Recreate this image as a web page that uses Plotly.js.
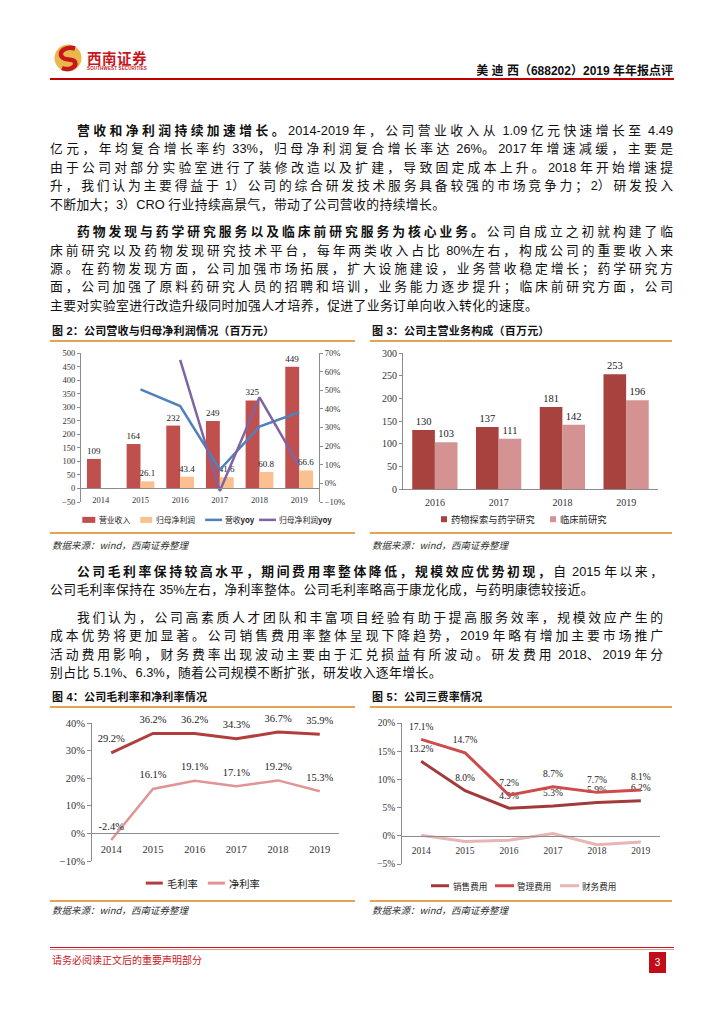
<!DOCTYPE html>
<html><head><meta charset="utf-8">
<script src="https://cdn.plot.ly/plotly-3.0.1.min.js"></script>
<style>
body{margin:0;background:#fff;}
#page{position:relative;width:724px;height:1024px;overflow:hidden;background:#fff;font-family:"Liberation Sans","Noto Sans CJK SC",sans-serif;color:#111;}
.ln{position:absolute;left:50px;width:623px;height:18px;line-height:18px;font-size:12.8px;white-space:nowrap;text-align:left;}
.ln.w2{width:613px;}
.ind{padding-left:27px;box-sizing:border-box;}
.ln b{font-weight:bold;}
.ln .a{letter-spacing:0px;}
.ft{position:absolute;height:14px;line-height:14px;font-size:11px;font-weight:bold;white-space:nowrap;letter-spacing:0.2px;}
.ol{position:absolute;height:2px;background:#E2A453;}
.src{position:absolute;height:12px;line-height:12px;font-size:9.5px;font-style:italic;color:#333;white-space:nowrap;font-family:"Noto Sans CJK SC",sans-serif;}
.chart{position:absolute;}
</style></head>
<body><div id="page">
<svg style="position:absolute;left:53px;top:43px" width="30" height="30" viewBox="0 0 30 30">
<circle cx="15" cy="15" r="13.5" fill="#E8B84B"/>
<path d="M22,5.5 C12,3 5,9 9,14 C12,18 20,15 22,19 C24,24 16,28 9,25" fill="none" stroke="#C8161D" stroke-width="4.5"/>
</svg>
<div style="position:absolute;left:87px;top:50px;font-size:14.5px;font-weight:bold;color:#C8161D;letter-spacing:0.5px;font-family:'Noto Sans CJK SC';line-height:16px;">西南证券</div>
<div style="position:absolute;left:87px;top:66px;font-size:9px;color:#C8161D;font-weight:bold;transform:scale(0.5);transform-origin:0 0;white-space:nowrap;letter-spacing:0.3px;">SOUTHWEST SECURITIES</div>
<div style="position:absolute;right:51px;top:63px;font-size:12px;font-weight:bold;line-height:16px;white-space:nowrap;">美 迪 西（688202）2019 年年报点评</div>
<div style="position:absolute;left:50px;top:78px;width:624px;height:1.5px;background:#C00000;"></div>

<div class="ln ind" data-p="1" style="top:122px"><b>营收和净利润持续加速增长。</b>2014-2019 年，公司营业收入从 1.09 亿元快速增长至 4.49</div>
<div class="ln" data-p="1" style="top:140.4px">亿元，年均复合增长率约 33%，归母净利润复合增长率达 26%。2017 年增速减缓，主要是</div>
<div class="ln" data-p="1" style="top:158.8px">由于公司对部分实验室进行了装修改造以及扩建，导致固定成本上升。2018 年开始增速提</div>
<div class="ln" data-p="1" style="top:177.2px">升，我们认为主要得益于 1）公司的综合研发技术服务具备较强的市场竞争力；2）研发投入</div>
<div class="ln last" data-p="1" style="top:195.6px">不断加大；3）CRO 行业持续高景气，带动了公司营收的持续增长。</div>

<div class="ln ind" data-p="2" style="top:223.2px"><b>药物发现与药学研究服务以及临床前研究服务为核心业务。</b>公司自成立之初就构建了临</div>
<div class="ln" data-p="2" style="top:241.6px">床前研究以及药物发现研究技术平台，每年两类收入占比 80%左右，构成公司的重要收入来</div>
<div class="ln" data-p="2" style="top:260px">源。在药物发现方面，公司加强市场拓展，扩大设施建设，业务营收稳定增长；药学研究方</div>
<div class="ln" data-p="2" style="top:278.4px">面，公司加强了原料药研究人员的招聘和培训，业务能力逐步提升；临床前研究方面，公司</div>
<div class="ln last" data-p="2" style="top:296.8px">主要对实验室进行改造升级同时加强人才培养，促进了业务订单向收入转化的速度。</div>

<div class="ft" style="left:52px;top:324px">图 2：公司营收与归母净利润情况（百万元）</div>
<div class="ol" style="left:50px;top:340px;width:305px"></div>
<div class="ft" style="left:372px;top:324px">图 3：公司主营业务构成（百万元）</div>
<div class="ol" style="left:370px;top:340px;width:302px"></div>
<div id="c2" class="chart"></div>
<div id="c3" class="chart"></div>
<div class="ol" style="left:50px;top:532px;width:305px"></div>
<div class="ol" style="left:370px;top:532px;width:302px"></div>
<div class="src" style="left:52px;top:539px">数据来源：wind，西南证券整理</div>
<div class="src" style="left:372px;top:539px">数据来源：wind，西南证券整理</div>

<div class="ln ind w2" data-p="3" style="top:563px"><b>公司毛利率保持较高水平，期间费用率整体降低，规模效应优势初现，</b>自 2015 年以来，</div>
<div class="ln last" data-p="3" style="top:581.4px">公司毛利率保持在 35%左右，净利率整体。公司毛利率略高于康龙化成，与药明康德较接近。</div>
<div class="ln ind w2" data-p="4" style="top:609px">我们认为，公司高素质人才团队和丰富项目经验有助于提高服务效率，规模效应产生的</div>
<div class="ln w2" data-p="4" style="top:627.4px">成本优势将更加显著。公司销售费用率整体呈现下降趋势，2019 年略有增加主要市场推广</div>
<div class="ln w2" data-p="4" style="top:645.8px">活动费用影响，财务费率出现波动主要由于汇兑损益有所波动。研发费用 2018、2019 年分</div>
<div class="ln last" data-p="4" style="top:664.2px">别占比 5.1%、6.3%，随着公司规模不断扩张，研发收入逐年增长。</div>

<div class="ft" style="left:52px;top:690px">图 4：公司毛利率和净利率情况</div>
<div class="ol" style="left:50px;top:706px;width:305px"></div>
<div class="ft" style="left:372px;top:690px">图 5：公司三费率情况</div>
<div class="ol" style="left:370px;top:706px;width:302px"></div>
<div id="c4" class="chart"></div>
<div id="c5" class="chart"></div>
<div class="ol" style="left:50px;top:900px;width:305px"></div>
<div class="ol" style="left:370px;top:900px;width:302px"></div>
<div class="src" style="left:52px;top:904px">数据来源：wind，西南证券整理</div>
<div class="src" style="left:372px;top:904px">数据来源：wind，西南证券整理</div>

<div style="position:absolute;left:50px;top:946.5px;width:624px;height:1.5px;background:#C8161D;"></div>
<div style="position:absolute;left:50px;top:948.5px;width:624px;height:1px;background:#E99;"></div>
<div style="position:absolute;left:52px;top:953px;font-size:10px;color:#C8161D;line-height:14px;font-family:'Noto Sans CJK SC';white-space:nowrap;">请务必阅读正文后的重要声明部分</div>
<div style="position:absolute;left:649px;top:952px;width:17px;height:21px;background:#C00D17;color:#fff;font-size:10px;line-height:21px;text-align:center;">3</div>
</div>
<script>
// ---- data ----
const years6 = ['2014','2015','2016','2017','2018','2019'];
const revenue = [109,164,232,249,325,449];
const netProfit = [-2.6,26.1,43.4,41.6,60.8,66.6];
const revenueYoy = [null,50.5,41.5,7.3,30.5,38.2];
const netProfitYoy = [null,null,66.3,-4.1,46.2,9.5];

const years4 = ['2016','2017','2018','2019'];
const drugDiscovery = [130,137,181,253];
const preclinical = [103,111,142,196];

const grossMargin = [29.2,36.2,36.2,34.3,36.7,35.9];
const netMargin = [-2.4,16.1,19.1,17.1,19.2,15.3];

const sellingExp = [13.2,8.0,4.9,5.3,5.9,6.2];
const adminExp = [17.1,14.7,7.2,8.7,7.7,8.1];
const financeExp = [0.1,-1.0,-0.8,0.4,-1.6,-1.1];

// ---- body text: inter-character justification on CJK only ----
(function(){
  const ASC = /^[\x20-\x7E]$/;
  function wrapAscii(el){
    const walker = document.createTreeWalker(el, NodeFilter.SHOW_TEXT);
    const nodes=[]; while(walker.nextNode()) nodes.push(walker.currentNode);
    nodes.forEach(t=>{
      const parts = t.nodeValue.split(/([\x20-\x7E]+)/);
      if(parts.length<2) return;
      const frag = document.createDocumentFragment();
      parts.forEach((p,i)=>{
        if(!p) return;
        if(i%2===1){const s=document.createElement('span'); s.className='a'; s.textContent=p; frag.appendChild(s);}
        else frag.appendChild(document.createTextNode(p));
      });
      t.parentNode.replaceChild(frag,t);
    });
  }
  document.querySelectorAll('.ln').forEach(el=>{
    wrapAscii(el);
    if(el.classList.contains('last')){ el.style.letterSpacing = '0.4px'; return; }
    el.style.letterSpacing = '0px';
    const cs = getComputedStyle(el);
    const target = el.clientWidth - parseFloat(cs.paddingLeft) - parseFloat(cs.paddingRight);
    const r = document.createRange(); r.selectNodeContents(el);
    const w = r.getBoundingClientRect().width;
    const txt = el.textContent;
    const k = Array.from(txt).filter(c=>!ASC.test(c)).length;
    const lastCJK = !ASC.test(txt[txt.length-1]);
    el.style.letterSpacing = ((target - w)/(k - (lastCJK?1:0)))+'px';
  });
})();

// ---- helpers ----
const SERIF = 'Liberation Serif, Times New Roman, serif';
const CJK = 'Noto Sans CJK SC, sans-serif';
const AX = '#8C8C8C';
const TXT = '#333';
function box(id, d, p){
  const el = document.getElementById(id);
  el.style.left = d.x+'px'; el.style.top = d.y+'px';
  el.style.width = d.w+'px'; el.style.height = d.h+'px';
  return {w:d.w, h:d.h,
    margin:{l:p.x0-d.x, r:d.x+d.w-p.x1, t:p.y0-d.y, b:d.y+d.h-p.y1, pad:0},
    px:x=>(x-p.x0)/(p.x1-p.x0), py:y=>(p.y1-y)/(p.y1-p.y0)};
}
function legend(g, items, yc, fs){
  const shapes=[], anns=[];
  items.forEach(it=>{
    if(it.type==='rect'){
      shapes.push({type:'rect',xref:'paper',yref:'paper',x0:g.px(it.x0),x1:g.px(it.x1),
        y0:g.py(yc+it.h/2),y1:g.py(yc-it.h/2),fillcolor:it.color,line:{width:0}});
    } else {
      shapes.push({type:'line',xref:'paper',yref:'paper',x0:g.px(it.x0),x1:g.px(it.x1),
        y0:g.py(yc),y1:g.py(yc),line:{color:it.color,width:it.lw||2.5}});
    }
    anns.push({xref:'paper',yref:'paper',x:g.px(it.tx),y:g.py(yc),xanchor:'left',yanchor:'middle',
      text:it.text,showarrow:false,borderpad:0,font:{family:CJK,size:fs,color:'#222'}});
  });
  return {shapes, annotations:anns};
}
function baseLayout(g){
  return {width:g.w,height:g.h,margin:g.margin,paper_bgcolor:'rgba(0,0,0,0)',plot_bgcolor:'rgba(0,0,0,0)',
    showlegend:false,hovermode:false};
}
const cfg = {displayModeBar:false, staticPlot:true};
function yax(range,dtick,fs,suffix,extra){
  return Object.assign({range:range,dtick:dtick,tick0:0,ticksuffix:suffix||'',showline:true,linecolor:AX,linewidth:1,
    ticks:'outside',ticklen:3,tickcolor:AX,tickfont:{family:SERIF,size:fs,color:TXT},showgrid:false,zeroline:false},extra||{});
}
function xax(fs,tl,extra){
  return Object.assign({type:'category',showline:true,linecolor:AX,linewidth:1,ticks:'outside',ticklen:tl,
    tickcolor:'rgba(0,0,0,0)',tickfont:{family:SERIF,size:fs,color:TXT},showgrid:false,zeroline:false},extra||{});
}

// ---- chart 2 ----
(function(){
  const g = box('c2',{x:50,y:343,w:306,h:189},{x0:80.7,x1:319,y0:353.3,y1:501.7});
  const C = {rev:'#C0504D', np:'#FAC090', ry:'#4F81BD', ny:'#8064A2'};
  const traces = [
    {type:'bar',name:'营业收入',x:years6,y:revenue,marker:{color:C.rev},text:revenue.map(String),
     textposition:'outside',constraintext:'none',cliponaxis:false,textfont:{family:SERIF,size:9,color:'#222'}},
    {type:'bar',name:'归母净利润',x:years6,y:netProfit,marker:{color:C.np},
     text:netProfit.map((v,i)=>v>0?v.toFixed(1):''),
     textposition:'outside',constraintext:'none',cliponaxis:false,textfont:{family:SERIF,size:9,color:'#222'}},
    {type:'scatter',mode:'lines',name:'营收yoy',x:years6,y:revenueYoy,yaxis:'y2',line:{color:C.ry,width:2.5},connectgaps:false},
    {type:'scatter',mode:'lines',name:'归母净利润yoy',x:years6,y:netProfitYoy,yaxis:'y2',line:{color:C.ny,width:2.5},connectgaps:false}
  ];
  const lg = legend(g,[
    {type:'rect',color:C.rev,x0:82,x1:95,h:6,tx:98,text:'营业收入'},
    {type:'rect',color:C.np,x0:140,x1:152,h:6,tx:155,text:'归母净利润'},
    {type:'line',color:C.ry,x0:205,x1:222,tx:224,text:'营收<b>yoy</b>'},
    {type:'line',color:C.ny,x0:259,x1:276,tx:278,text:'归母净利润<b>yoy</b>'}
  ],519.5,7.8);
  const layout = Object.assign(baseLayout(g),{
    barmode:'group',bargap:0.3,bargroupgap:0,
    xaxis:xax(8.5,3,{anchor:'free',position:50/550}),
    yaxis:yax([-50,500],50,8.5),
    yaxis2:yax([-10,70],10,8.5,'%',{overlaying:'y',side:'right',anchor:'x'}),
    shapes:lg.shapes, annotations:lg.annotations
  });
  Plotly.newPlot('c2',traces,layout,cfg);
})();

// ---- chart 3 ----
(function(){
  const g = box('c3',{x:370,y:343,w:302,h:189},{x0:403,x1:658,y0:353.3,y1:489.3});
  const C = {a:'#A8423F', b:'#D49392'};
  const traces = [
    {type:'bar',name:'药物探索与药学研究',x:years4,y:drugDiscovery,marker:{color:C.a},text:drugDiscovery.map(String),
     textposition:'outside',constraintext:'none',cliponaxis:false,textfont:{family:SERIF,size:10.5,color:'#222'}},
    {type:'bar',name:'临床前研究',x:years4,y:preclinical,marker:{color:C.b},text:preclinical.map(String),
     textposition:'outside',constraintext:'none',cliponaxis:false,textfont:{family:SERIF,size:10.5,color:'#222'}}
  ];
  const lg = legend(g,[
    {type:'rect',color:C.a,x0:441,x1:447,h:6,tx:450,text:'药物探索与药学研究'},
    {type:'rect',color:C.b,x0:550,x1:556,h:6,tx:559,text:'临床前研究'}
  ],519.5,9.3);
  const layout = Object.assign(baseLayout(g),{
    barmode:'group',bargap:0.29,bargroupgap:0,
    xaxis:xax(10,4),
    yaxis:yax([0,300],50,10),
    shapes:lg.shapes, annotations:lg.annotations
  });
  Plotly.newPlot('c3',traces,layout,cfg);
})();

// ---- chart 4 ----
(function(){
  const g = box('c4',{x:50,y:709,w:306,h:191},{x0:92.3,x1:339,y0:723.3,y1:860.7});
  const C = {g:'#B23D3D', n:'#E29494'};
  const pct = a=>a.map(v=>v.toFixed(1)+'%');
  const mk = {size:11,color:'rgba(0,0,0,0)'};
  const traces = [
    {type:'scatter',mode:'lines+markers+text',name:'毛利率',x:years6,y:grossMargin,line:{color:C.g,width:3},marker:mk,
     text:pct(grossMargin),textposition:'top center',cliponaxis:false,textfont:{family:SERIF,size:10.5,color:'#222'}},
    {type:'scatter',mode:'lines+markers+text',name:'净利率',x:years6,y:netMargin,line:{color:C.n,width:2.5},marker:mk,
     text:pct(netMargin),textposition:'top center',cliponaxis:false,textfont:{family:SERIF,size:10.5,color:'#222'}}
  ];
  const lg = legend(g,[
    {type:'line',color:C.g,x0:146,x1:163,lw:3,tx:166,text:'毛利率'},
    {type:'line',color:C.n,x0:208,x1:225,lw:3,tx:228,text:'净利率'}
  ],882.7,10.3);
  const layout = Object.assign(baseLayout(g),{
    xaxis:xax(10.5,6,{anchor:'free',position:10/50}),
    yaxis:yax([-10,40],10,10.5,'%',{ticklen:4}),
    shapes:lg.shapes, annotations:lg.annotations
  });
  Plotly.newPlot('c4',traces,layout,cfg);
})();

// ---- chart 5 ----
(function(){
  const g = box('c5',{x:370,y:709,w:302,h:191},{x0:402,x1:660,y0:723.3,y1:864});
  const C = {s:'#A33A3A', a:'#CF4B4B', f:'#E8B4B4'};
  const pct = a=>a.map(v=>v.toFixed(1)+'%');
  const mk = {size:10,color:'rgba(0,0,0,0)'};
  const traces = [
    {type:'scatter',mode:'lines+markers+text',name:'销售费用',x:years6,y:sellingExp,line:{color:C.s,width:3},marker:mk,
     text:pct(sellingExp),textposition:'top center',cliponaxis:false,textfont:{family:SERIF,size:9.5,color:'#222'}},
    {type:'scatter',mode:'lines+markers+text',name:'管理费用',x:years6,y:adminExp,line:{color:C.a,width:3},marker:mk,
     text:pct(adminExp),textposition:'top center',cliponaxis:false,textfont:{family:SERIF,size:9.5,color:'#222'}},
    {type:'scatter',mode:'lines',name:'财务费用',x:years6,y:financeExp,line:{color:C.f,width:3}}
  ];
  const lg = legend(g,[
    {type:'line',color:C.s,x0:431,x1:449,lw:3,tx:452,text:'销售费用'},
    {type:'line',color:C.a,x0:495,x1:514,lw:3,tx:516,text:'管理费用'},
    {type:'line',color:C.f,x0:560,x1:579,lw:3,tx:581,text:'财务费用'}
  ],885.7,8.6);
  const layout = Object.assign(baseLayout(g),{
    xaxis:xax(9.5,6,{anchor:'free',position:5/25}),
    yaxis:yax([-5,20],5,9.5,'%',{ticklen:4}),
    shapes:lg.shapes, annotations:lg.annotations
  });
  Plotly.newPlot('c5',traces,layout,cfg);
})();
</script>
</body></html>
